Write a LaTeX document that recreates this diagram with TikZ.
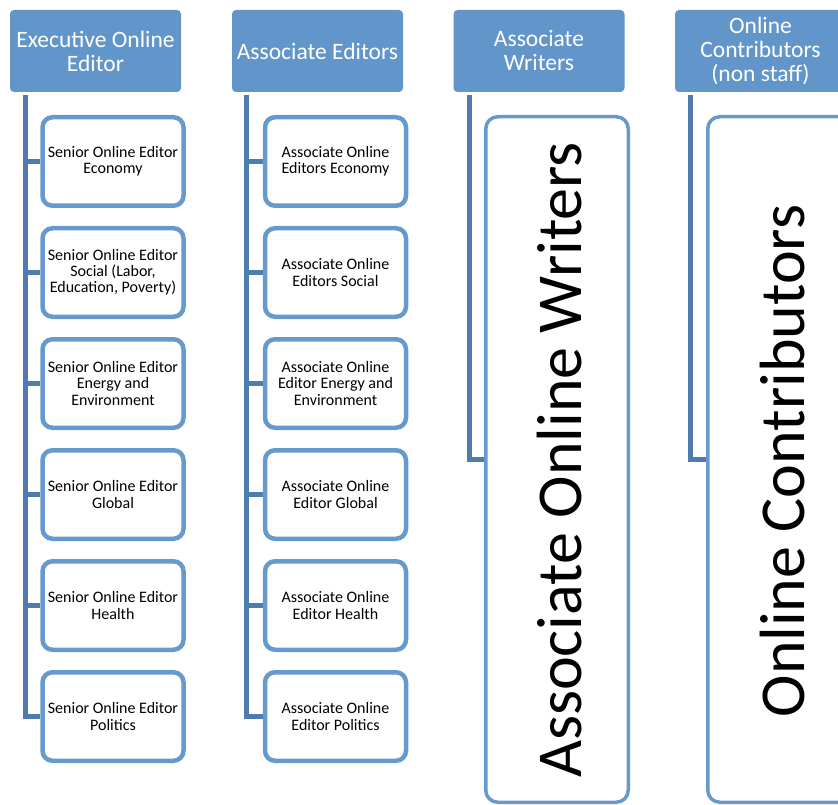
\documentclass[tikz,border=0pt]{standalone}
\usepackage{fontspec}
\setmainfont{Carlito}
\usetikzlibrary{backgrounds}
\definecolor{hdrfill}{RGB}{98,150,203}
\definecolor{boxline}{RGB}{102,153,204}
\definecolor{connline}{RGB}{79,123,174}
\begin{document}
\begin{tikzpicture}[x=1pt,y=-1pt,
  hdr/.style={rectangle, rounded corners=4pt, fill=hdrfill, draw=none, text=white,
    minimum width=171pt, minimum height=82pt, align=center, inner sep=0pt,
    font=\fontsize{23.5}{24}\selectfont},
  child/.style={rectangle, rounded corners=10pt, draw=boxline, line width=4.5pt, fill=white,
    minimum width=141pt, minimum height=88.5pt, align=center, inner sep=0pt,
    font=\fontsize{16}{16.2}\selectfont},
  bigbox/.style={rectangle, rounded corners=12pt, draw=boxline, line width=3.5pt, fill=white,
    minimum width=142.5pt, minimum height=685.5pt, inner sep=0pt},
  bigtext/.style={rotate=90, font=\fontsize{64}{66}\selectfont, inner sep=0pt},
  conn/.style={draw=connline, line width=5pt, line join=miter}
]
\useasboundingbox (0,0) rectangle (838,805);
\clip (0,0) rectangle (838,805);
% headers
\node[hdr] (h1) at (95.5,51) {Executive Online\\Editor};
\node[hdr] (h2) at (317.5,51) {Associate Editors};
\node[hdr] (h3) at (539,51) {Associate\\Writers};
\node[hdr] (h4) at (760.5,51) {Online\\Contributors\\(non staff)};
% connector tops
\coordinate (t1) at (25,95);
\coordinate (t2) at (246.5,95);
\coordinate (t3) at (469,95);
\coordinate (t4) at (690.5,95);
% column 1
\node[child] (a1) at (113,161.5) {Senior Online Editor\\Economy};
\node[child] (a2) at (113,272.5) {Senior Online Editor\\Social (Labor,\\Education, Poverty)};
\node[child] (a3) at (113,383.5) {Senior Online Editor\\Energy and\\Environment};
\node[child] (a4) at (113,494.5) {Senior Online Editor\\Global};
\node[child] (a5) at (113,605.5) {Senior Online Editor\\Health};
\node[child] (a6) at (113,716.5) {Senior Online Editor\\Politics};
% column 2
\node[child] (b1) at (335.5,161.5) {Associate Online\\Editors Economy};
\node[child] (b2) at (335.5,272.5) {Associate Online\\Editors Social};
\node[child] (b3) at (335.5,383.5) {Associate Online\\Editor Energy and\\Environment};
\node[child] (b4) at (335.5,494.5) {Associate Online\\Editor Global};
\node[child] (b5) at (335.5,605.5) {Associate Online\\Editor Health};
\node[child] (b6) at (335.5,716.5) {Associate Online\\Editor Politics};
% columns 3 and 4
\node[bigbox] (w) at (557,459.5) {};
\node[bigtext] (wt) at (560,460) {Associate Online Writers};
\node[bigbox] (c) at (779,459.5) {};
\node[bigtext] (ct) at (783,461) {Online Contributors};
% connectors
\begin{scope}[on background layer]
\foreach \n in {a1,a2,a3,a4,a5,a6} \path[conn] (t1) |- (\n.west);
\foreach \n in {b1,b2,b3,b4,b5,b6} \path[conn] (t2) |- (\n.west);
\path[conn] (t3) |- (w.west);
\path[conn] (t4) |- (c.west);
\end{scope}
\end{tikzpicture}
\end{document}
